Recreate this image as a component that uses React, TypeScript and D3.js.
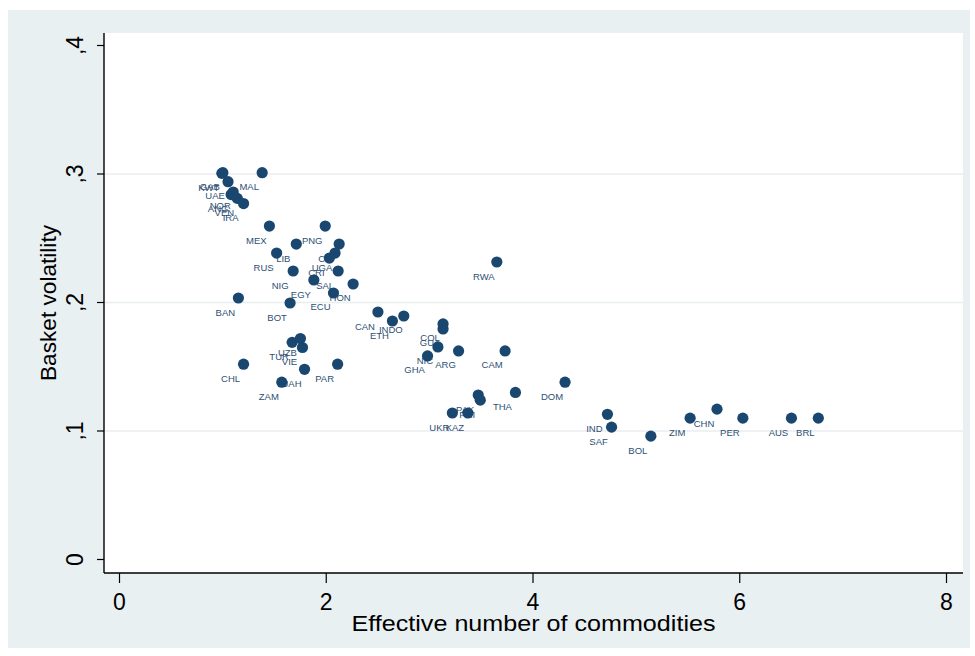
import * as d3 from "d3";

// country codes, effective number of commodities, basket volatility
const countries = [
  "KWT", "GAB", "MAL", "UAE", "NOR", "ANG", "VEN", "IRA",
  "MEX", "PNG", "LIB", "RUS", "CIV", "UGA", "CRI", "NIG", "SAL", "EGY", "HON", "ECU", "BOT", "BAN",
  "CAN", "ETH", "INDO", "COL", "GUA", "NIC", "GHA", "ARG", "CAM", "RWA",
  "TUR", "UZB", "VIE", "UAH", "PAR", "CHL", "ZAM",
  "PAK", "PHI", "UKR", "KAZ", "THA", "DOM", "IND", "SAF", "BOL", "ZIM", "CHN", "PER", "AUS", "BRL",
];
const effN = [
  0.99, 1.0, 1.38, 1.05, 1.1, 1.08, 1.14, 1.2,
  1.45, 1.99, 1.71, 1.52, 2.125, 2.085, 2.03, 1.68, 2.115, 1.88, 2.26, 2.07, 1.65, 1.15,
  2.5, 2.64, 2.75, 3.13, 3.13, 3.08, 2.98, 3.28, 3.73, 3.65,
  1.67, 1.75, 1.77, 1.79, 2.11, 1.2, 1.57,
  3.47, 3.49, 3.22, 3.37, 3.83, 4.31, 4.72, 4.76, 5.14, 5.52, 5.78, 6.03, 6.5, 6.76,
];
const vol = [
  0.3005, 0.301, 0.301, 0.294, 0.286, 0.284, 0.281, 0.277,
  0.2595, 0.2595, 0.2455, 0.2385, 0.2455, 0.2385, 0.2346, 0.2245, 0.2245, 0.2175, 0.2144, 0.2074, 0.1996, 0.2035,
  0.1926, 0.1856, 0.1895, 0.1833, 0.1794, 0.1654, 0.1584, 0.1623, 0.1623, 0.2315,
  0.169, 0.172, 0.165, 0.148, 0.152, 0.152, 0.138,
  0.128, 0.124, 0.114, 0.114, 0.13, 0.138, 0.113, 0.103, 0.096, 0.11, 0.117, 0.11, 0.11, 0.11,
];

const xTicks = [0, 2, 4, 6, 8];
const yTicks = [0, 0.1, 0.2, 0.3, 0.4];
const yTickLabels = ["0", ",1", ",2", ",3", ",4"];
const yGrid = [0.1, 0.2, 0.3];

export default function App() {
  const W = 975;
  const H = 656;
  const plot = { left: 104, right: 963, top: 33, bottom: 573 };
  const navy = "#1a476f";
  const font = "'Liberation Sans', Arial, sans-serif";

  const x = d3.scaleLinear().domain([0, 8]).range([119.5, 946.5]);
  const y = d3.scaleLinear().domain([0, 0.4]).range([559.5, 45.5]);

  const pts = countries.map((c, i) => ({ c, x: x(effN[i]), y: y(vol[i]) }));

  return (
    <svg
      width={W}
      height={H}
      style={{ position: "absolute", left: 0, top: 0, background: "#fff" }}
    >
      {/* outer graph region */}
      <rect x={8} y={10} width={962} height={638} fill="#e9f0f2" />
      <rect
        x={plot.left}
        y={plot.top}
        width={plot.right - plot.left}
        height={plot.bottom - plot.top}
        fill="#fff"
      />

      {/* gridlines */}
      {yGrid.map((g) => (
        <line
          key={g}
          x1={plot.left}
          x2={plot.right}
          y1={y(g)}
          y2={y(g)}
          stroke="#e8eef0"
          strokeWidth={1.5}
        />
      ))}

      {/* labels under the markers, offset to lower left */}
      {pts.map((p) => (
        <text
          key={"l" + p.c}
          x={p.x - 13}
          y={p.y + 17.5}
          textAnchor="middle"
          fontFamily={font}
          fontSize={9.5}
          fill="#2e4f73"
        >
          {p.c}
        </text>
      ))}
      {pts.map((p) => (
        <circle key={"m" + p.c} cx={p.x} cy={p.y} r={5.6} fill={navy} />
      ))}

      {/* axes */}
      <line x1={plot.left} x2={plot.left} y1={plot.top} y2={plot.bottom} stroke="#000" strokeWidth={1.4} />
      <line x1={plot.left} x2={plot.right} y1={plot.bottom} y2={plot.bottom} stroke="#000" strokeWidth={1.4} />

      {yTicks.map((t, i) => (
        <g key={"y" + t}>
          <line x1={plot.left - 7} x2={plot.left} y1={y(t)} y2={y(t)} stroke="#000" strokeWidth={1.2} />
          <text
            transform={`translate(${83},${y(t)}) rotate(-90)`}
            textAnchor="middle"
            fontFamily={font}
            fontSize={23}
            fill="#000"
          >
            {yTickLabels[i]}
          </text>
        </g>
      ))}

      {xTicks.map((t) => (
        <g key={"x" + t}>
          <line x1={x(t)} x2={x(t)} y1={plot.bottom} y2={plot.bottom + 10} stroke="#000" strokeWidth={1.2} />
          <text
            x={x(t)}
            y={610}
            textAnchor="middle"
            fontFamily={font}
            fontSize={23}
            fill="#000"
          >
            {t}
          </text>
        </g>
      ))}

      <text
        x={(plot.left + plot.right) / 2}
        y={631}
        textAnchor="middle"
        fontFamily={font}
        fontSize={22}
        textLength={364}
        lengthAdjust="spacingAndGlyphs"
        fill="#000"
      >
        Effective number of commodities
      </text>
      <text
        transform={`translate(${56},${(plot.top + plot.bottom) / 2}) rotate(-90)`}
        textAnchor="middle"
        fontFamily={font}
        fontSize={22}
        textLength={156}
        lengthAdjust="spacingAndGlyphs"
        fill="#000"
      >
        Basket volatility
      </text>
    </svg>
  );
}
